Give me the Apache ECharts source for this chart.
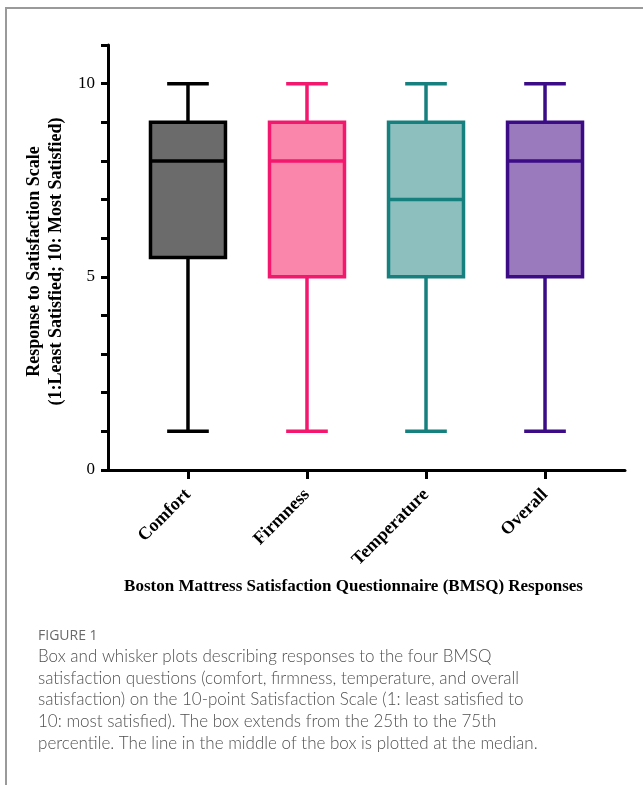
<!DOCTYPE html>
<html>
<head>
<meta charset="utf-8">
<script src="https://cdn.jsdelivr.net/npm/echarts@6/dist/echarts.min.js"></script>
<style>
  html, body { margin: 0; padding: 0; background: #fff; }
  #main { width: 643px; height: 785px; }
</style>
</head>
<body>
<div id="main"></div>
<script>
// categories and the five-number summaries
const categories = ['Comfort', 'Firmness', 'Temperature', 'Overall'];
const minVals    = [1, 1, 1, 1];
const q1Vals     = [5.5, 5, 5, 5];
const medianVals = [8, 8, 7, 8];
const q3Vals     = [9, 9, 9, 9];
const maxVals    = [10, 10, 10, 10];

const yLabelValues = [0, 5, 10];

const strokeColors = ['#000000', '#f3176e', '#16807f', '#3b0c86'];
const fillColors   = ['#6b6b6b', '#fb86ac', '#8cbfbe', '#9a79bd'];

const serif = '"Liberation Serif", "Times New Roman", serif';

const boxData = categories.map((c, i) => [i, minVals[i], q1Vals[i], medianVals[i], q3Vals[i], maxVals[i]]);

const chart = echarts.init(document.getElementById('main'));

function renderBox(params, api) {
  const i = params.dataIndex;
  const x = api.value(0);
  const lo = api.coord([x, api.value(1)]);
  const q1 = api.coord([x, api.value(2)]);
  const md = api.coord([x, api.value(3)]);
  const q3 = api.coord([x, api.value(4)]);
  const hi = api.coord([x, api.value(5)]);
  const unit = api.size([1, 0])[0];
  const halfBox = unit * 0.315;
  const halfCap = unit * 0.175;
  const cx = lo[0];
  const stroke = strokeColors[i];
  const lineStyle = { stroke: stroke, lineWidth: 3.5, fill: null };
  return {
    type: 'group',
    children: [
      { type: 'line', shape: { x1: cx, y1: lo[1], x2: cx, y2: q1[1] }, style: lineStyle },
      { type: 'line', shape: { x1: cx, y1: q3[1], x2: cx, y2: hi[1] }, style: lineStyle },
      { type: 'line', shape: { x1: cx - halfCap, y1: lo[1], x2: cx + halfCap, y2: lo[1] }, style: lineStyle },
      { type: 'line', shape: { x1: cx - halfCap, y1: hi[1], x2: cx + halfCap, y2: hi[1] }, style: lineStyle },
      {
        type: 'rect',
        shape: { x: cx - halfBox, y: q3[1], width: halfBox * 2, height: q1[1] - q3[1] },
        style: { fill: fillColors[i], stroke: stroke, lineWidth: 3.5 }
      },
      { type: 'line', shape: { x1: cx - halfBox, y1: md[1], x2: cx + halfBox, y2: md[1] }, style: lineStyle }
    ]
  };
}

const option = {
  animation: false,
  title: [
    {
      text: 'FIGURE 1',
      left: 33,
      top: 624,
      textStyle: { fontFamily: '"Open Sans", Lato, sans-serif', fontSize: 14, fontWeight: 500, color: '#6a6a6a' }
    },
    {
      text: 'Box and whisker plots describing responses to the four BMSQ\n' +
            'satisfaction questions (comfort, firmness, temperature, and overall\n' +
            'satisfaction) on the 10-point Satisfaction Scale (1: least satisfied to\n' +
            '10: most satisfied). The box extends from the 25th to the 75th\n' +
            'percentile. The line in the middle of the box is plotted at the median.',
      left: 33,
      top: 641,
      textStyle: { fontFamily: 'Lato, "Open Sans", sans-serif', fontSize: 17, fontWeight: 300, color: '#505050', lineHeight: 21.6 }
    }
  ],
  graphic: [
    {
      type: 'rect',
      shape: { x: 6, y: 8, width: 700, height: 820 },
      style: { fill: null, stroke: '#9a9a9a', lineWidth: 2 },
      silent: true
    }
  ],
  grid: { left: 108, right: 18, top: 45, bottom: 315, outerBoundsMode: 'none' },
  xAxis: {
    type: 'value',
    min: -0.672,
    max: 3.672,
    splitLine: { show: false },
    axisLine: { show: true, onZero: false, lineStyle: { color: '#000', width: 3 } },
    axisTick: { show: true, customValues: [0, 1, 2, 3], length: 9, lineStyle: { color: '#000', width: 3 } },
    axisLabel: {
      customValues: [0, 1, 2, 3],
      formatter: v => categories[Math.round(v)],
      rotate: 45,
      margin: 22,
      fontFamily: serif,
      fontWeight: 'bold',
      fontSize: 18,
      color: '#000'
    },
    name: 'Boston Mattress Satisfaction Questionnaire (BMSQ) Responses',
    nameLocation: 'middle',
    nameGap: 108,
    nameTextStyle: { fontFamily: serif, fontWeight: 'bold', fontSize: 17, color: '#000', padding: [0, 26, 0, 0] }
  },
  yAxis: {
    type: 'value',
    min: 0,
    max: 11,
    interval: 1,
    splitLine: { show: false },
    axisLine: { show: true, onZero: false, lineStyle: { color: '#000', width: 3 } },
    axisTick: { show: true, length: 7, lineStyle: { color: '#000', width: 3 } },
    axisLabel: {
      // ticks at every step, text only at 0, 5 and 10
      formatter: v => (yLabelValues.indexOf(v) >= 0 ? String(v) : ''),
      margin: 13,
      fontFamily: serif,
      fontSize: 17,
      color: '#000'
    },
    name: 'Response to Satisfaction Scale\n(1:Least Satisfied; 10: Most Satisfied)',
    nameLocation: 'middle',
    nameGap: 36,
    nameTextStyle: { fontFamily: serif, fontWeight: 'bold', fontSize: 18, color: '#000', lineHeight: 22, padding: [0, 8, 0, 0] }
  },
  series: [
    {
      type: 'custom',
      renderItem: renderBox,
      encode: { x: 0, y: [1, 2, 3, 4, 5] },
      data: boxData,
      clip: false
    }
  ]
};

chart.setOption(option);
</script>
</body>
</html>
